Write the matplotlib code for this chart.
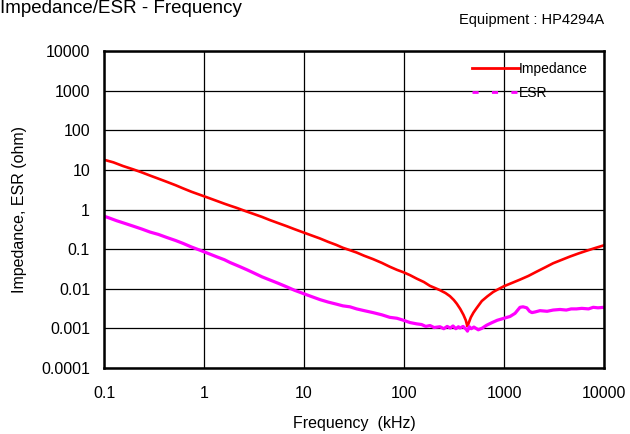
import matplotlib
matplotlib.use("Agg")
import matplotlib.pyplot as plt
from matplotlib.lines import Line2D

plt.rcParams['font.family'] = ['Liberation Sans', 'DejaVu Sans']

# Impedance (ohm) vs frequency (kHz)
imp_freq = [0.1, 0.124, 0.155, 0.196, 0.24, 0.288, 0.35, 0.424, 0.52, 0.62, 0.75, 0.91,
            1.1, 1.34, 1.6, 1.82, 2.12, 2.6, 3.1, 3.8, 4.57, 5.5, 6.7, 8.0, 9.8,
            12.0, 14.5, 17.5, 21, 24.5, 28.8, 33.6, 40, 49, 60, 72, 85, 99, 115,
            134, 158, 182, 205, 229, 260, 288, 315, 337, 365, 393, 415, 431,
            445, 466, 495, 530, 600, 680, 780, 880, 1000, 1200, 1445, 1750, 2120,
            2600, 3100, 3800, 4570, 5500, 6700, 8000, 10000]
impedance = [18.0, 15.5, 12.5, 10.3, 8.6, 7.2, 6.0, 5.0, 4.1, 3.4, 2.8, 2.35,
             1.98, 1.65, 1.40, 1.25, 1.10, 0.91, 0.78, 0.65, 0.54, 0.455, 0.38, 0.32, 0.265,
             0.22, 0.185, 0.152, 0.128, 0.108, 0.094, 0.082, 0.068, 0.056, 0.045, 0.036, 0.030, 0.026, 0.022,
             0.018, 0.0148, 0.0118, 0.0104, 0.0092, 0.0078, 0.0065, 0.0052, 0.0042, 0.0031, 0.0022, 0.0016, 0.0011,
             0.0014, 0.0019, 0.0025, 0.0032, 0.0049, 0.0064, 0.0083, 0.0098, 0.0116, 0.0140, 0.017, 0.021, 0.027,
             0.035, 0.044, 0.054, 0.065, 0.077, 0.091, 0.105, 0.125]

# ESR (ohm) vs frequency (kHz)
esr_freq = [0.1, 0.115, 0.134, 0.16, 0.196, 0.24, 0.288, 0.35, 0.424, 0.52, 0.62, 0.75, 0.91,
            1.1, 1.34, 1.6, 1.82, 2.29, 2.7, 3.1, 3.8, 4.57, 5.5, 6.7, 8.0, 9.8,
            12.0, 14.5, 17.5, 21, 24.5, 28.8, 33.6, 40, 49, 60, 72, 85, 99, 115,
            134, 150, 165, 182, 200, 229, 250, 270, 290, 309, 330, 350, 363, 390, 421,
            431, 450, 470, 500, 553, 600, 670, 760, 855, 1000, 1150, 1290, 1445, 1550, 1690,
            1800, 1900, 2050, 2290, 2700, 3100, 3630, 4200, 4700, 5300, 6000, 7000, 7800, 8700, 10000]
esr = [0.68, 0.60, 0.52, 0.45, 0.38, 0.32, 0.27, 0.235, 0.197, 0.165, 0.139, 0.113, 0.094,
       0.078, 0.064, 0.054, 0.046, 0.036, 0.030, 0.0255, 0.020, 0.0166, 0.0138, 0.0112, 0.0092, 0.0076,
       0.0063, 0.0053, 0.0046, 0.0041, 0.0037, 0.0035, 0.0031, 0.0028, 0.0025, 0.0022, 0.0019, 0.0018, 0.0016, 0.0014,
       0.0013, 0.00125, 0.00112, 0.00118, 0.00105, 0.0011, 0.00098, 0.00112, 0.00102, 0.00115, 0.00098, 0.0011, 0.00102, 0.00112, 0.00093,
       0.00085, 0.0011, 0.00098, 0.00108, 0.00092, 0.0010, 0.0012, 0.0014, 0.0016, 0.0018, 0.0020, 0.0024, 0.0034, 0.0035, 0.0033,
       0.0027, 0.0025, 0.0026, 0.0028, 0.0027, 0.0029, 0.0030, 0.0029, 0.0031, 0.0031, 0.0032, 0.0031, 0.0034, 0.0033, 0.0034]

x_ticks = [0.1, 1, 10, 100, 1000, 10000]
x_tick_labels = ["0.1", "1", "10", "100", "1000", "10000"]
y_ticks = [0.0001, 0.001, 0.01, 0.1, 1, 10, 100, 1000, 10000]
y_tick_labels = ["0.0001", "0.001", "0.01", "0.1", "1", "10", "100", "1000", "10000"]

series_names = ["Impedance", "ESR"]
colors = ["#ff0000", "#ff00ff"]

fig = plt.figure(figsize=(6.3, 4.34), dpi=100)
ax = fig.add_axes([104/630, 1 - 368/434, 500/630, 317/434])

ax.plot(imp_freq, impedance, color=colors[0], lw=1.9, solid_joinstyle='miter', zorder=3)
ax.plot(esr_freq, esr, color=colors[1], lw=2.3, zorder=3)

ax.set_xscale('log')
ax.set_yscale('log')
ax.set_xlim(0.1, 10000)
ax.set_ylim(0.0001, 10000)
ax.set_xticks(x_ticks)
ax.set_xticklabels(x_tick_labels)
ax.set_yticks(y_ticks)
ax.set_yticklabels(y_tick_labels)
ax.minorticks_off()
ax.tick_params(axis='both', length=0, labelsize=11.5)
ax.tick_params(axis='x', pad=13)
ax.tick_params(axis='y', pad=10)
ax.grid(True, color='black', lw=0.9)
for s in ax.spines.values():
    s.set_linewidth(1.8)
    s.set_color('black')
    s.set_zorder(4)

ax.set_xlabel("Frequency  (kHz)", fontsize=11.5, labelpad=11)
ax.set_ylabel("Impedance, ESR (ohm)", fontsize=11.5, labelpad=10)

handles = [Line2D([], [], color=colors[0], lw=2.0),
           Line2D([], [], color=colors[1], lw=2.0, linestyle=(0, (2.2, 4.8)))]
ax.legend(handles, series_names, loc='upper left', bbox_to_anchor=(368/500, 1 - 11/317),
          frameon=False, fontsize=10, handlelength=3.4, handletextpad=0.0,
          labelspacing=0.72, borderpad=0, borderaxespad=0)

fig.text(0.0, 1 - 13/434, "Impedance/ESR - Frequency", fontsize=13.5, ha='left', va='baseline')
fig.text(604/630, 1 - 20/434, "Equipment : HP4294A", fontsize=10.5, ha='right', va='center')

fig.savefig("out.png", dpi=100)
